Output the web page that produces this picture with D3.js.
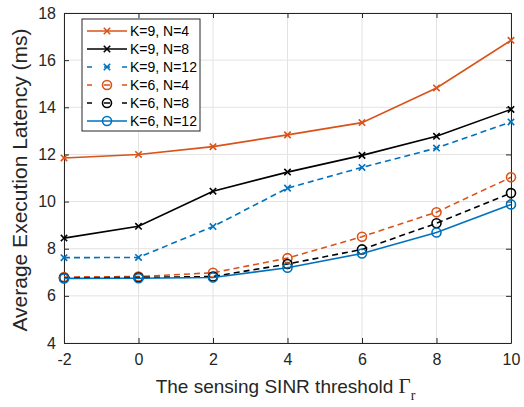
<!DOCTYPE html>
<html>
<head>
<meta charset="utf-8">
<script src="https://cdn.jsdelivr.net/npm/d3@7"></script>
<style>
  body { margin: 0; background: #fff; }
  text { font-family: "Liberation Sans", Arial, sans-serif; }
</style>
</head>
<body>
<div id="chart"></div>
<script>
// threshold values on the x axis
const thresholds = [-2, 0, 2, 4, 6, 8, 10];

const k9n4 = [11.85, 12.0, 12.33, 12.83, 13.35, 14.82, 16.84];
const k9n8 = [8.45, 8.95, 10.44, 11.25, 11.96, 12.77, 13.91];
const k9n12 = [7.62, 7.63, 8.94, 10.57, 11.45, 12.27, 13.38];
const k6n4 = [6.8, 6.82, 6.98, 7.6, 8.51, 9.55, 11.03];
const k6n8 = [6.76, 6.78, 6.82, 7.35, 7.97, 9.08, 10.36];
const k6n12 = [6.74, 6.75, 6.78, 7.19, 7.8, 8.69, 9.88];

const xTicks = [-2, 0, 2, 4, 6, 8, 10];
const yTicks = [4, 6, 8, 10, 12, 14, 16, 18];

const series = [
  { name: "K=9, N=4", values: k9n4, color: "#D95319", dash: null, marker: "x" },
  { name: "K=9, N=8", values: k9n8, color: "#000000", dash: null, marker: "x" },
  { name: "K=9, N=12", values: k9n12, color: "#0072BD", dash: "6,4", marker: "x" },
  { name: "K=6, N=4", values: k6n4, color: "#D95319", dash: "6,4", marker: "o" },
  { name: "K=6, N=8", values: k6n8, color: "#000000", dash: "6,4", marker: "o" },
  { name: "K=6, N=12", values: k6n12, color: "#0072BD", dash: null, marker: "o" }
];

const W = 524, H = 407;
const margin = { top: 13, right: 13, bottom: 64, left: 64 };
const width = W - margin.left - margin.right;
const height = H - margin.top - margin.bottom;

const svg = d3.select("#chart").append("svg")
    .attr("width", W)
    .attr("height", H);

const g = svg.append("g")
    .attr("transform", "translate(" + margin.left + "," + margin.top + ")");

const x = d3.scaleLinear().domain([-2, 10]).range([0, width]);
const y = d3.scaleLinear().domain([4, 18]).range([height, 0]);

// grid
g.append("g").selectAll("line").data(xTicks).join("line")
    .attr("x1", d => x(d)).attr("x2", d => x(d))
    .attr("y1", 0).attr("y2", height)
    .attr("stroke", "#e3e3e3").attr("stroke-width", 1);
g.append("g").selectAll("line").data(yTicks).join("line")
    .attr("y1", d => y(d)).attr("y2", d => y(d))
    .attr("x1", 0).attr("x2", width)
    .attr("stroke", "#e3e3e3").attr("stroke-width", 1);

// axes (ticks inside, box around)
const axisColor = "#262626";
const fmt = d => String(d);
g.append("g")
    .attr("transform", "translate(0," + height + ")")
    .call(d3.axisBottom(x).tickValues(xTicks).tickFormat(fmt).tickSizeInner(-5).tickSizeOuter(0).tickPadding(11));
g.append("g")
    .call(d3.axisLeft(y).tickValues(yTicks).tickFormat(fmt).tickSizeInner(-5).tickSizeOuter(0).tickPadding(8));
g.append("g")
    .call(d3.axisTop(x).tickValues(xTicks).tickSizeInner(-5).tickSizeOuter(0).tickFormat(""));
g.append("g")
    .attr("transform", "translate(" + width + ",0)")
    .call(d3.axisRight(y).tickValues(yTicks).tickSizeInner(-5).tickSizeOuter(0).tickFormat(""));
g.selectAll(".domain, .tick line").attr("stroke", axisColor);
g.selectAll(".tick text").attr("fill", axisColor).style("font-size", "16px");

// lines
const line = d3.line()
    .x((d, i) => x(thresholds[i]))
    .y(d => y(d));

function drawMarker(sel, type, color) {
  if (type === "x") {
    const s = 3.2;
    sel.append("path")
        .attr("d", `M${-s},${-s}L${s},${s}M${-s},${s}L${s},${-s}`)
        .attr("stroke", color).attr("stroke-width", 1.6).attr("fill", "none");
  } else {
    sel.append("circle").attr("r", 4.5)
        .attr("stroke", color).attr("stroke-width", 1.6).attr("fill", "none");
  }
}

series.forEach(s => {
  g.append("path")
      .datum(s.values)
      .attr("fill", "none")
      .attr("stroke", s.color)
      .attr("stroke-width", 1.6)
      .attr("stroke-dasharray", s.dash)
      .attr("d", line);
  s.values.forEach((v, i) => {
    const m = g.append("g").attr("transform", "translate(" + x(thresholds[i]) + "," + y(v) + ")");
    drawMarker(m, s.marker, s.color);
  });
});

// legend
const lg = g.append("g").attr("transform", "translate(18,6)");
lg.append("rect")
    .attr("width", 118).attr("height", 112)
    .attr("fill", "#fff").attr("stroke", axisColor).attr("stroke-width", 1);
series.forEach((s, i) => {
  const row = lg.append("g").attr("transform", "translate(0," + (12 + i * 18) + ")");
  row.append("line")
      .attr("x1", 5).attr("x2", 45)
      .attr("stroke", s.color).attr("stroke-width", 1.6)
      .attr("stroke-dasharray", s.dash ? "6,12" : null)
      .attr("stroke-dashoffset", s.dash ? 1 : null);
  const m = row.append("g").attr("transform", "translate(25,0)");
  drawMarker(m, s.marker, s.color);
  row.append("text")
      .attr("x", 48).attr("y", 5)
      .attr("fill", "#000")
      .style("font-size", "14px")
      .text(s.name);
});

// axis labels
svg.append("text")
    .attr("x", margin.left + width / 2 - 2)
    .attr("y", 393)
    .attr("text-anchor", "middle")
    .attr("fill", axisColor)
    .style("font-size", "19px")
    .html('The sensing SINR threshold <tspan font-family="Liberation Serif" font-size="21px">Γ</tspan><tspan font-family="Liberation Serif" font-size="14px" dy="7">r</tspan>');

svg.append("text")
    .attr("transform", "translate(27," + (margin.top + height / 2 + 2) + ") rotate(-90)")
    .attr("text-anchor", "middle")
    .attr("fill", axisColor)
    .style("font-size", "21px")
    .text("Average Execution Latency (ms)");
</script>
</body>
</html>
